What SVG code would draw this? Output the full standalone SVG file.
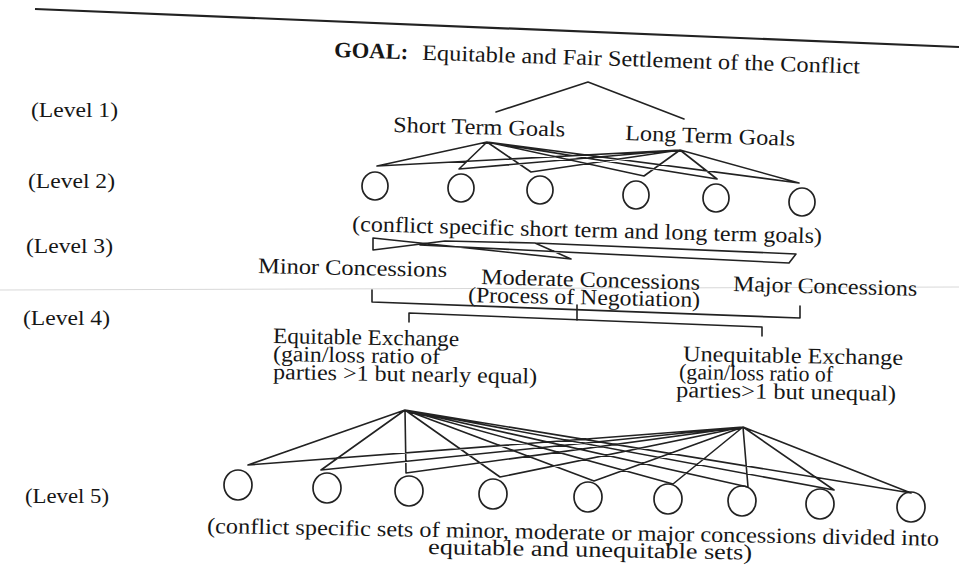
<svg xmlns="http://www.w3.org/2000/svg" width="959" height="568" viewBox="0 0 959 568">
<style>
  text { font-family: "Liberation Serif", "Times New Roman", serif; fill: #161616; }
  .lv { font-size: 22px; }
  .t { font-size: 22px; }
  .b { font-weight: bold; }
  .ln { stroke: #222222; stroke-width: 1.6; fill: none; stroke-linejoin: round; stroke-linecap: round; }
  .nd { stroke: #222222; stroke-width: 1.7; fill: none; }
</style>
<rect x="0" y="0" width="959" height="568" fill="#ffffff"/>
<line x1="35" y1="9" x2="959" y2="47" stroke="#222" stroke-width="2.2"/>
<line x1="0" y1="290" x2="959" y2="287" stroke="#d8d8d8" stroke-width="1"/>

<g id="level-labels">
  <text class="lv" x="31" y="117" textLength="87" lengthAdjust="spacingAndGlyphs">(Level 1)</text>
  <text class="lv" x="28" y="188" textLength="87" lengthAdjust="spacingAndGlyphs">(Level 2)</text>
  <text class="lv" x="26" y="253" textLength="87" lengthAdjust="spacingAndGlyphs">(Level 3)</text>
  <text class="lv" x="23" y="325" textLength="87" lengthAdjust="spacingAndGlyphs">(Level 4)</text>
  <text class="lv" x="25" y="503" textLength="84" lengthAdjust="spacingAndGlyphs">(Level 5)</text>
</g>

<g id="goal" transform="rotate(1.8 334 57)">
  <text class="t b" x="334" y="57" textLength="74" lengthAdjust="spacingAndGlyphs">GOAL:</text>
  <text class="t" x="422" y="57" textLength="438" lengthAdjust="spacingAndGlyphs">Equitable and Fair Settlement of the Conflict</text>
</g>

<g id="short-term-goals">
  <text class="t" x="393" y="132" textLength="172" lengthAdjust="spacingAndGlyphs" transform="rotate(1.5 393 132)">Short Term Goals</text>
</g>
<g id="long-term-goals">
  <text class="t" x="625" y="140" textLength="170" lengthAdjust="spacingAndGlyphs" transform="rotate(2 625 140)">Long Term Goals</text>
</g>

<g id="level2-goals">
  <ellipse class="nd" cx="375" cy="186" rx="13" ry="14"/>
  <ellipse class="nd" cx="461" cy="188" rx="13" ry="14"/>
  <ellipse class="nd" cx="540" cy="190" rx="13" ry="14"/>
  <ellipse class="nd" cx="636" cy="195" rx="13" ry="14"/>
  <ellipse class="nd" cx="716" cy="198" rx="13" ry="14"/>
  <ellipse class="nd" cx="802" cy="202" rx="13" ry="14"/>
  <text class="t" x="352" y="231" textLength="470" lengthAdjust="spacingAndGlyphs" transform="rotate(1.5 352 231)">(conflict specific short term and long term goals)</text>
</g>

<g id="minor-concessions">
  <text class="t" x="258" y="273" textLength="189" lengthAdjust="spacingAndGlyphs" transform="rotate(1.2 258 273)">Minor Concessions</text>
</g>
<g id="moderate-concessions">
  <text class="t" x="481" y="284" textLength="219" lengthAdjust="spacingAndGlyphs" transform="rotate(1.5 481 284)">Moderate Concessions</text>
  <text class="t" x="468" y="302" textLength="232" lengthAdjust="spacingAndGlyphs" transform="rotate(1.2 468 302)">(Process of Negotiation)</text>
</g>
<g id="major-concessions">
  <text class="t" x="733" y="291" textLength="184" lengthAdjust="spacingAndGlyphs" transform="rotate(1.5 733 291)">Major Concessions</text>
</g>

<g id="equitable-exchange">
  <text class="t" x="273" y="343" textLength="186" lengthAdjust="spacingAndGlyphs" transform="rotate(1 273 343)">Equitable Exchange</text>
  <text class="t" x="273" y="361" textLength="167" lengthAdjust="spacingAndGlyphs" transform="rotate(1 273 361)">(gain/loss ratio of</text>
  <text class="t" x="273" y="379" textLength="264" lengthAdjust="spacingAndGlyphs" transform="rotate(1 273 379)">parties &gt;1 but nearly equal)</text>
</g>
<g id="unequitable-exchange">
  <text class="t" x="683" y="361" textLength="220" lengthAdjust="spacingAndGlyphs" transform="rotate(1 683 361)">Unequitable Exchange</text>
  <text class="t" x="679" y="379" textLength="154" lengthAdjust="spacingAndGlyphs" transform="rotate(1 679 379)">(gain/loss ratio of</text>
  <text class="t" x="676" y="397" textLength="220" lengthAdjust="spacingAndGlyphs" transform="rotate(1 676 397)">parties&gt;1 but unequal)</text>
</g>

<g id="level5-sets">
  <ellipse class="nd" cx="238" cy="485" rx="14" ry="15"/>
  <ellipse class="nd" cx="327" cy="488" rx="14" ry="15"/>
  <ellipse class="nd" cx="409" cy="491" rx="14" ry="15"/>
  <ellipse class="nd" cx="493" cy="494" rx="14" ry="15"/>
  <ellipse class="nd" cx="588" cy="497" rx="14" ry="15"/>
  <ellipse class="nd" cx="668" cy="499" rx="14" ry="15"/>
  <ellipse class="nd" cx="742" cy="501" rx="14" ry="15"/>
  <ellipse class="nd" cx="820" cy="504" rx="14" ry="15"/>
  <ellipse class="nd" cx="911" cy="507" rx="14" ry="15"/>
  <text class="t" x="207" y="533" textLength="732" lengthAdjust="spacingAndGlyphs" transform="rotate(1 207 533)">(conflict specific sets of minor, moderate or major concessions divided into</text>
  <text class="t" x="428" y="554" textLength="324" lengthAdjust="spacingAndGlyphs" transform="rotate(1 428 554)">equitable and unequitable sets)</text>
</g>

<g id="connectors">
  <polyline class="ln" points="496,112 588,82 684,119"/>
  <path class="ln" d="M487,142 L377,166 M487,142 L459,169 M487,142 L531,172 M487,142 L644,176 M487,142 L717,179 M487,142 L799,183
                     M680,150 L377,166 M680,150 L459,169 M680,150 L531,172 M680,150 L644,176 M680,150 L717,179 M680,150 L799,183"/>
  <path class="ln" d="M373,238 L373,250 M373,238 L571,259 M373,250 L445,241 L535,243 L571,259 M535,243 L796,254 L789,263 L420,245"/>
  <polyline class="ln" points="372,290 372,302 800,318 800,306"/>
  <polyline class="ln" points="409,322 409,313 762,327 762,336"/>
  <line class="ln" x1="577" y1="305" x2="577" y2="320"/>
  <path class="ln" d="M405,410 L248,465 M405,410 L321,470 M405,410 L406,473 M405,410 L500,477 M405,410 L594,481 M405,410 L673,484 M405,410 L748,487 M405,410 L834,490 M405,410 L911,493
                     M743,427 L248,465 M743,427 L321,470 M743,427 L406,473 M743,427 L500,477 M743,427 L594,481 M743,427 L673,484 M743,427 L748,487 M743,427 L834,490 M743,427 L911,493"/>
</g>
</svg>
